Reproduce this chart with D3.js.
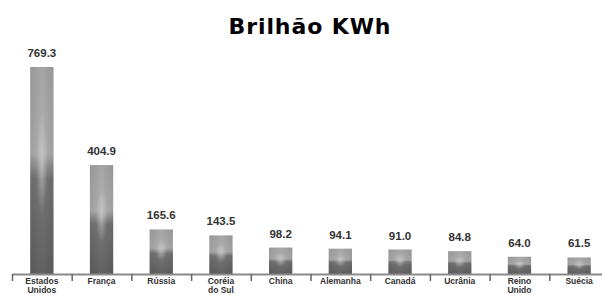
<!DOCTYPE html>
<html>
<head>
<meta charset="utf-8">
<script src="https://cdn.jsdelivr.net/npm/d3@7"></script>
<style>
  body { margin: 0; background: #fff; }
  svg { display: block; }
</style>
</head>
<body>
<svg id="svg-chart"></svg>
<script>
const width = 602;
const height = 295;
const margin = { left: 12, right: -7, top: 50, bottom: 21 };

// data
const countries = [
  ["Estados", "Unidos"], ["França"], ["Rússia"], ["Coréia", "do Sul"], ["China"],
  ["Alemanha"], ["Canadá"], ["Ucrânia"], ["Reino", "Unido"], ["Suécia"]
];
const values = [769.3, 404.9, 165.6, 143.5, 98.2, 94.1, 91.0, 84.8, 64.0, 61.5];
const valueLabels = ["769.3", "404.9", "165.6", "143.5", "98.2", "94.1", "91.0", "84.8", "64.0", "61.5"];
const title = "Brilhão KWh";

const svg = d3.select("#svg-chart").attr("width", width).attr("height", height);

const plotWidth = width - margin.left - margin.right;
const plotHeight = height - margin.top - margin.bottom;

const keys = countries.map(function (c, i) { return i; });

const xScale = d3.scaleBand().domain(keys).range([0, plotWidth]).paddingInner(0.61).paddingOuter(0.305);
const tickScale = d3.scaleBand().domain(keys).range([0, plotWidth]);
const yScale = d3.scaleLinear().domain([0, 769.3]).range([plotHeight, plotHeight - 207]);

const defs = svg.append("defs");
const grad = defs.append("linearGradient").attr("id", "barGrad")
  .attr("x1", 0).attr("y1", 0).attr("x2", 0).attr("y2", 1);
grad.append("stop").attr("offset", "0%").attr("stop-color", "#a6a6a6");
grad.append("stop").attr("offset", "42%").attr("stop-color", "#b0b0b0");
grad.append("stop").attr("offset", "54%").attr("stop-color", "#767676");
grad.append("stop").attr("offset", "100%").attr("stop-color", "#626262");

const side = defs.append("linearGradient").attr("id", "sideGrad")
  .attr("x1", 0).attr("y1", 0).attr("x2", 1).attr("y2", 0);
side.append("stop").attr("offset", "0%").attr("stop-color", "#000").attr("stop-opacity", 0.1);
side.append("stop").attr("offset", "50%").attr("stop-color", "#000").attr("stop-opacity", 0);
side.append("stop").attr("offset", "100%").attr("stop-color", "#000").attr("stop-opacity", 0.1);

const glow = defs.append("radialGradient").attr("id", "glow")
  .attr("cx", 0.5).attr("cy", 0.46).attr("r", 0.25);
glow.append("stop").attr("offset", "0%").attr("stop-color", "#d8d8d8").attr("stop-opacity", 0.55);
glow.append("stop").attr("offset", "100%").attr("stop-color", "#d8d8d8").attr("stop-opacity", 0);

const g = svg.append("g").attr("transform", "translate(" + margin.left + "," + margin.top + ")");

// title
svg.append("text")
  .attr("x", 310).attr("y", 34)
  .attr("text-anchor", "middle")
  .attr("font-family", "DejaVu Sans, Verdana, sans-serif")
  .attr("font-weight", "bold")
  .attr("font-size", 22)
  .attr("letter-spacing", 0.9)
  .attr("fill", "#000")
  .text(title);

["url(#barGrad)", "url(#sideGrad)", "url(#glow)"].forEach(function (fill) {
  g.selectAll(null)
    .data(values)
    .join("rect")
    .attr("x", function (d, i) { return xScale(i); })
    .attr("y", function (d) { return yScale(d); })
    .attr("width", xScale.bandwidth())
    .attr("height", function (d) { return plotHeight - yScale(d); })
    .attr("fill", fill);
});

// value labels
g.selectAll(".val")
  .data(values)
  .join("text")
  .attr("class", "val")
  .attr("x", function (d, i) { return xScale(i) + xScale.bandwidth() / 2; })
  .attr("y", function (d) { return yScale(d) - 10; })
  .attr("text-anchor", "middle")
  .attr("font-family", "Liberation Sans, Arial, sans-serif")
  .attr("font-weight", "bold")
  .attr("font-size", 11.5)
  .attr("fill", "#333")
  .text(function (d, i) { return valueLabels[i]; });

// axis line and ticks
g.append("line")
  .attr("x1", 0).attr("x2", plotWidth)
  .attr("y1", plotHeight + 0.5).attr("y2", plotHeight + 0.5)
  .attr("stroke", "#8a8a8a").attr("stroke-width", 2);

g.selectAll(".tick")
  .data(keys)
  .join("line")
  .attr("class", "tick")
  .attr("x1", function (d) { return tickScale(d) + 0.5; })
  .attr("x2", function (d) { return tickScale(d) + 0.5; })
  .attr("y1", plotHeight)
  .attr("y2", plotHeight + 7)
  .attr("stroke", "#666").attr("stroke-width", 1.5);

// category labels
const cat = g.selectAll(".cat")
  .data(countries)
  .join("text")
  .attr("class", "cat")
  .attr("x", function (d, i) { return xScale(i) + xScale.bandwidth() / 2; })
  .attr("y", plotHeight + 10)
  .attr("text-anchor", "middle")
  .attr("font-family", "Liberation Sans Narrow, Liberation Sans, Arial, sans-serif")
  .attr("font-weight", "bold")
  .attr("font-size", 8.5)
  .attr("fill", "#333");

cat.selectAll("tspan")
  .data(function (d) { return d; })
  .join("tspan")
  .attr("x", function () { return d3.select(this.parentNode).attr("x"); })
  .attr("dy", function (d, i) { return i === 0 ? 0 : 8.5; })
  .text(function (d) { return d; });
</script>
</body>
</html>
